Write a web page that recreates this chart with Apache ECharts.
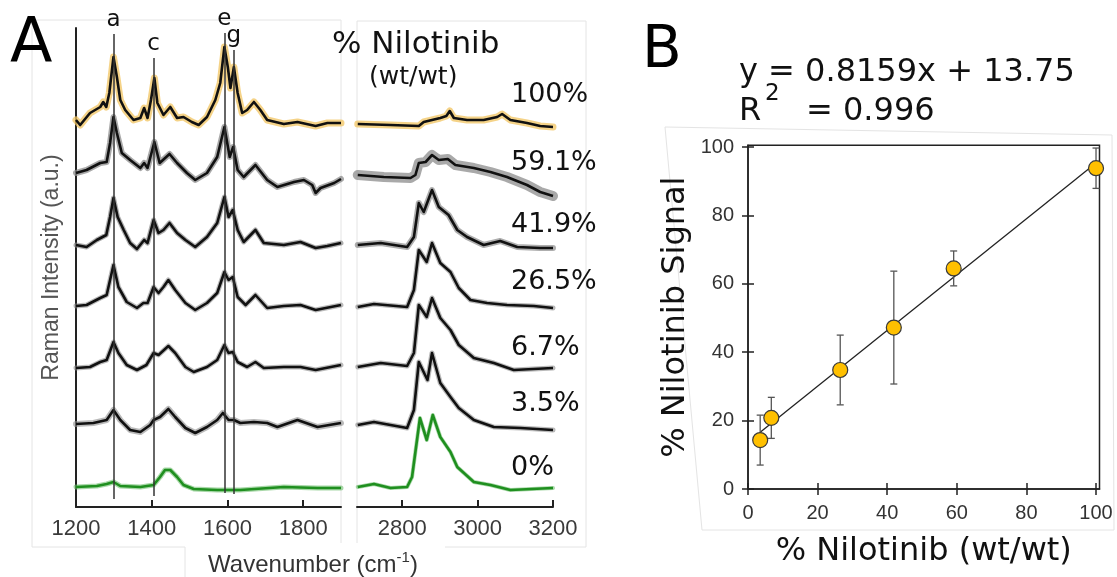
<!DOCTYPE html>
<html><head><meta charset="utf-8">
<script src="https://cdn.jsdelivr.net/npm/echarts@6/dist/echarts.min.js"></script>
<style>html,body{margin:0;padding:0;background:#fff}#c{width:1117px;height:577px}</style>
</head><body><div id="c"></div>
<script>
// ---------- Panel A: Raman spectra (stacked, a.u.) ----------
const pctLabels = ['100%', '59.1%', '41.9%', '26.5%', '6.7%', '3.5%', '0%'];

const spec100Low = [[1200,387],[1211,382],[1237,394],[1264,400],[1272,405],[1280,400],[1288,414],[1299,450],[1308,430],[1317,407],[1330,397],[1352,387],[1370,389],[1380,399],[1389,389],[1398,407],[1407,429],[1415,404],[1431,392],[1449,400],[1467,389],[1484,390],[1506,385],[1524,382],[1546,390],[1568,407],[1581,424],[1592,460],[1601,440],[1608,419],[1617,440],[1627,414],[1639,394],[1652,397],[1670,405],[1687,397],[1705,387],[1749,383],[1785,385],[1833,381],[1864,384],[1900,384]];
const spec100High = [[2682,383],[2769,382],[2844,381],[2857,385],[2901,389],[2917,391],[2926,396],[2937,389],[2972,387],[3016,387],[3052,390],[3065,393],[3087,387],[3131,384],[3166,381],[3200,380]];

const spec591Low = [[1200,334],[1228,337],[1264,344],[1281,345],[1290,364],[1299,390],[1308,374],[1321,354],[1343,347],[1370,339],[1380,344],[1389,339],[1407,365],[1421,344],[1447,353],[1467,344],[1493,334],[1515,327],[1546,334],[1573,350],[1592,380],[1606,350],[1615,360],[1627,337],[1643,330],[1674,342],[1705,327],[1732,320],[1776,325],[1802,327],[1824,322],[1833,314],[1846,319],[1882,324],[1900,328]];
const spec591High = [[2682,332],[2751,330],[2822,329],[2835,332],[2844,344],[2862,345],[2879,352],[2897,347],[2921,348],[2941,342],[2990,339],[3034,335],[3078,330],[3131,322],[3166,315],[3200,311]];

const spec419Low = [[1200,262],[1228,260],[1255,267],[1280,272],[1290,290],[1299,309],[1310,290],[1326,277],[1343,264],[1361,258],[1380,267],[1389,264],[1405,287],[1418,274],[1431,277],[1447,284],[1467,274],[1489,267],[1515,260],[1546,270],[1573,284],[1592,310],[1603,290],[1614,297],[1627,277],[1643,265],[1674,277],[1696,264],[1749,262],[1793,265],[1833,259],[1864,261],[1900,264]];
const spec419High = [[2682,262],[2743,264],[2813,260],[2831,270],[2844,304],[2857,295],[2879,317],[2897,300],[2923,292],[2946,277],[2972,270],[3016,262],[3060,266],[3105,260],[3166,259],[3200,259]];

const spec265Low = [[1200,201],[1228,202],[1264,209],[1281,212],[1290,227],[1299,242],[1312,220],[1334,205],[1361,199],[1378,204],[1389,204],[1405,220],[1418,214],[1431,220],[1444,227],[1462,217],[1489,204],[1515,197],[1546,204],[1573,214],[1592,235],[1603,227],[1614,230],[1627,210],[1648,202],[1674,212],[1705,199],[1749,201],[1793,202],[1833,197],[1900,202]];
const spec265High = [[2682,200],[2725,203],[2813,200],[2831,217],[2844,257],[2865,245],[2879,264],[2901,244],[2928,235],[2950,219],[2981,207],[3025,204],[3078,202],[3149,201],[3200,199]];

const spec67Low = [[1200,139],[1237,140],[1264,145],[1281,147],[1299,165],[1312,154],[1334,142],[1361,137],[1386,142],[1405,154],[1418,152],[1444,161],[1462,154],[1489,140],[1511,135],[1546,140],[1573,147],[1592,162],[1603,154],[1614,155],[1627,145],[1652,140],[1674,145],[1696,139],[1749,140],[1793,140],[1833,137],[1900,142]];
const spec67High = [[2682,140],[2743,144],[2813,141],[2831,154],[2844,202],[2865,190],[2879,209],[2901,189],[2928,177],[2950,162],[2990,149],[3043,144],[3096,137],[3200,139]];

const spec35Low = [[1200,83],[1246,84],[1281,87],[1299,97],[1317,87],[1343,77],[1370,75],[1396,82],[1405,87],[1422,90],[1444,98],[1462,90],[1489,79],[1515,74],[1546,80],[1573,87],[1588,94],[1603,87],[1617,87],[1634,84],[1670,85],[1705,84],[1732,80],[1785,87],[1838,80],[1900,84]];
const spec35High = [[2682,82],[2725,85],[2813,79],[2831,97],[2844,145],[2867,127],[2879,154],[2901,124],[2928,110],[2950,99],[2990,87],[3043,80],[3114,79],[3200,77]];

const spec0Low = [[1200,20],[1255,21],[1281,23],[1299,25],[1317,21],[1370,20],[1405,22],[1422,30],[1435,37],[1449,37],[1467,30],[1484,22],[1511,18],[1573,17],[1634,17],[1749,20],[1838,19],[1900,19]];
const spec0High = [[2682,20],[2725,23],[2769,19],[2813,20],[2826,30],[2847,89],[2865,67],[2881,92],[2901,70],[2928,55],[2946,40],[2990,25],[3034,22],[3087,17],[3200,19]];

const lowTicks = [1200, 1400, 1600, 1800];
const highTicks = [2800, 3000, 3200];

const peakNames = ['a', 'c', 'e', 'g'];
const peakPos = [1299, 1405, 1592, 1617];
const peakTop = [473, 449, 474, 457];
const peakBottom = [8, 11, 14, 13];

// ---------- Panel B: calibration ----------
const nilConc = [3.5, 6.7, 26.5, 41.9, 59.1, 100];
const nilSignal = [14.3, 20.8, 34.8, 47.2, 64.5, 93.8];
const nilSD = [7.3, 6.0, 10.2, 16.5, 5.1, 5.9];
const fitX = [3.5, 100];
const fitY = [16.6, 95.3];
const bTicks = [0, 20, 40, 60, 80, 100];

// ---------------------------------------------
const lowSets = [spec100Low, spec591Low, spec419Low, spec265Low, spec67Low, spec35Low, spec0Low];
const highSets = [spec100High, spec591High, spec419High, spec265High, spec67High, spec35High, spec0High];
const bandColors = ['rgba(242,196,96,0.75)', 'rgba(140,140,140,0.75)', 'rgba(140,140,140,0.7)', 'rgba(140,140,140,0.6)', 'rgba(140,140,140,0.6)', 'rgba(140,140,140,0.6)', 'rgba(110,190,110,0.6)'];
const bandWidthsLow = [7, 6, 5, 5, 5, 6, 5];
const bandWidthsHigh = [7, 10, 6, 5, 5, 5, 4];
const lineColors = ['#111', '#111', '#111', '#111', '#111', '#111', '#1f8f1f'];
const plain = v => String(v);

const series = [];
for (let i = 0; i < lowSets.length; i++) {
  [[lowSets[i], 0, bandWidthsLow[i]], [highSets[i], 1, bandWidthsHigh[i]]].forEach(([d, ax, bw]) => {
    series.push({ type: 'line', xAxisIndex: ax, yAxisIndex: ax, data: d, symbol: 'none', silent: true, z: 2,
      lineStyle: { color: bandColors[i], width: bw, join: 'round', cap: 'round' } });
    series.push({ type: 'line', xAxisIndex: ax, yAxisIndex: ax, data: d, symbol: 'none', silent: true, z: 3,
      lineStyle: { color: lineColors[i], width: 2.6, join: 'round' } });
  });
}
series.push({
  type: 'line', xAxisIndex: 0, yAxisIndex: 0, data: [], z: 5, silent: true,
  markLine: {
    silent: true, symbol: 'none', animation: false,
    lineStyle: { color: '#333', width: 1.5, type: 'solid' },
    label: { show: true, position: 'end', distance: 2, formatter: p => p.name, color: '#111', fontSize: 23, fontFamily: 'DejaVu Sans' },
    data: peakNames.map((n, k) => [{ name: n, coord: [peakPos[k], peakBottom[k]] }, { coord: [peakPos[k], peakTop[k]] }])
  }
});

// Panel B series
series.push({ type: 'line', xAxisIndex: 2, yAxisIndex: 2, data: fitX.map((x, k) => [x, fitY[k]]), symbol: 'none', silent: true, z: 3,
  lineStyle: { color: '#222', width: 1.3 } });
series.push({
  type: 'custom', xAxisIndex: 2, yAxisIndex: 2, z: 4, silent: true,
  data: nilConc.map((x, k) => [x, nilSignal[k] - nilSD[k], nilSignal[k] + nilSD[k]]),
  renderItem: function (params, api) {
    const x = api.value(0);
    const pLo = api.coord([x, api.value(1)]);
    const pHi = api.coord([x, api.value(2)]);
    const w = 3.5;
    const st = { stroke: '#555', lineWidth: 1.3 };
    return { type: 'group', children: [
      { type: 'line', shape: { x1: pLo[0], y1: pLo[1], x2: pHi[0], y2: pHi[1] }, style: st },
      { type: 'line', shape: { x1: pLo[0] - w, y1: pLo[1], x2: pLo[0] + w, y2: pLo[1] }, style: st },
      { type: 'line', shape: { x1: pHi[0] - w, y1: pHi[1], x2: pHi[0] + w, y2: pHi[1] }, style: st }
    ]};
  }
});
series.push({ type: 'scatter', xAxisIndex: 2, yAxisIndex: 2, z: 6, silent: true, symbolSize: 15,
  data: nilConc.map((x, k) => [x, nilSignal[k]]),
  itemStyle: { color: '#FFC000', borderColor: '#3a3a3a', borderWidth: 1.2, opacity: 1 } });

const faint = '#e4e4e4';
const option = {
  animation: false,
  backgroundColor: '#fff',
  grid: [
    { left: 76, top: 28, width: 265, height: 479 },
    { left: 357, top: 28, width: 196, height: 479 },
    { left: 748, top: 145.3, width: 351.5, height: 343.7, show: true, borderColor: '#222', borderWidth: 1.5, backgroundColor: 'transparent' }
  ],
  xAxis: [
    { gridIndex: 0, type: 'value', min: 1200, max: 1900,
      axisLine: { lineStyle: { color: '#222', width: 2 } },
      axisTick: { inside: true, length: 7, customValues: [1400, 1600, 1800], lineStyle: { color: '#222', width: 2 } },
      axisLabel: { customValues: lowTicks, formatter: plain, color: '#3a3a3a', fontSize: 22, margin: 11, fontFamily: 'Liberation Sans' },
      splitLine: { show: false } },
    { gridIndex: 1, type: 'value', min: 2680, max: 3200,
      axisLine: { lineStyle: { color: '#222', width: 2 } },
      axisTick: { inside: true, length: 7, customValues: highTicks, lineStyle: { color: '#222', width: 2 } },
      axisLabel: { customValues: highTicks, formatter: plain, color: '#3a3a3a', fontSize: 22, margin: 11, fontFamily: 'Liberation Sans' },
      splitLine: { show: false } },
    { gridIndex: 2, type: 'value', min: 0, max: 101, position: 'bottom',
      name: '% Nilotinib (wt/wt)', nameLocation: 'middle', nameGap: 47,
      nameTextStyle: { color: '#111', fontSize: 32, fontFamily: 'DejaVu Sans' },
      axisLine: { lineStyle: { color: '#222', width: 1.5 } },
      axisTick: { inside: false, length: 6, customValues: bTicks, lineStyle: { color: '#222', width: 1.5 } },
      axisLabel: { customValues: bTicks, formatter: plain, color: '#333', fontSize: 20, margin: 14, fontFamily: 'Liberation Sans' },
      splitLine: { show: false } },
    { gridIndex: 2, type: 'value', min: 0, max: 101, position: 'bottom', offset: 0,
      axisLine: { show: false },
      axisTick: { inside: true, length: 6, customValues: bTicks, lineStyle: { color: '#222', width: 1.5 } },
      axisLabel: { show: false }, splitLine: { show: false } }
  ],
  yAxis: [
    { gridIndex: 0, type: 'value', min: 0, max: 479,
      name: 'Raman Intensity (a.u.)', nameLocation: 'middle', nameGap: 13,
      nameTextStyle: { color: '#555', fontSize: 23, fontFamily: 'Liberation Sans' },
      axisLine: { show: true, lineStyle: { color: '#222', width: 2 } },
      axisTick: { show: false }, axisLabel: { show: false }, splitLine: { show: false } },
    { gridIndex: 1, type: 'value', min: 0, max: 479, show: false, splitLine: { show: false } },
    { gridIndex: 2, type: 'value', min: 0, max: 100.5, position: 'left',
      name: '% Nilotinib Signal', nameLocation: 'middle', nameGap: 56,
      nameTextStyle: { color: '#111', fontSize: 32, fontFamily: 'DejaVu Sans' },
      axisLine: { lineStyle: { color: '#222', width: 1.5 } },
      axisTick: { inside: false, length: 6, customValues: bTicks, lineStyle: { color: '#222', width: 1.5 } },
      axisLabel: { customValues: bTicks, formatter: plain, color: '#333', fontSize: 20, margin: 14, fontFamily: 'Liberation Sans' },
      splitLine: { show: false } },
    { gridIndex: 2, type: 'value', min: 0, max: 100.5, position: 'left', offset: 0,
      axisLine: { show: false },
      axisTick: { inside: true, length: 6, customValues: bTicks, lineStyle: { color: '#222', width: 1.5 } },
      axisLabel: { show: false }, splitLine: { show: false } }
  ],
  graphic: [
    // faint panel frames
    { type: 'polyline', silent: true, z: -1, shape: { points: [[185, 577], [185, 547], [32, 547], [32, 20], [341, 20], [341, 543]] }, style: { stroke: faint, lineWidth: 1, fill: null } },
    { type: 'polyline', silent: true, z: -1, shape: { points: [[357, 543], [357, 21], [586, 21], [586, 177]] }, style: { stroke: faint, lineWidth: 1, fill: null } },
    { type: 'polyline', silent: true, z: -1, shape: { points: [[445, 547], [586, 547], [586, 177]] }, style: { stroke: faint, lineWidth: 1, fill: null } },
    { type: 'polyline', silent: true, z: -1, shape: { points: [[702, 530], [665, 127], [1112, 135], [1114, 530], [702, 530]] }, style: { stroke: faint, lineWidth: 1, fill: null } },
    // panel letters
    { type: 'text', left: 10, top: 15, silent: true, style: { text: 'A', font: '62px "DejaVu Sans"', fill: '#000' } },
    { type: 'text', left: 642, top: 23, silent: true, style: { text: 'B', font: '58px "DejaVu Sans"', fill: '#000' } },
    // legend title
    { type: 'text', left: 332, top: 29, silent: true, style: { text: '% Nilotinib', font: '31px "DejaVu Sans"', fill: '#111' } },
    { type: 'text', left: 369, top: 65, silent: true, style: { text: '(wt/wt)', font: '25px "DejaVu Sans"', fill: '#111' } },
    // spectrum labels
    ...pctLabels.map((t, k) => ({ type: 'text', left: 511, top: [81, 149, 211, 268, 334, 390, 454][k], silent: true,
      style: { text: t, font: '27px "DejaVu Sans"', fill: '#111' } })),
    // x axis title panel A
    { type: 'text', silent: true, x: 313, y: 565,
      style: { text: '{m|Wavenumber (cm}{s|-1}{m|)}', align: 'center', verticalAlign: 'middle',
        rich: { m: { fontSize: 24, fontFamily: 'Liberation Sans', fill: '#333', lineHeight: 30 },
                s: { fontSize: 15, fontFamily: 'Liberation Sans', fill: '#333', verticalAlign: 'top', lineHeight: 30 } } } },
    // equation
    { type: 'text', left: 739, top: 57, silent: true, style: { text: 'y = 0.8159x + 13.75', font: '32px "DejaVu Sans"', fill: '#111' } },
    { type: 'text', left: 739, top: 96, silent: true, style: { text: 'R', font: '32px "DejaVu Sans"', fill: '#111' } },
    { type: 'text', left: 765, top: 83, silent: true, style: { text: '2', font: '23px "DejaVu Sans"', fill: '#111' } },
    { type: 'text', left: 806, top: 96, silent: true, style: { text: '= 0.996', font: '32px "DejaVu Sans"', fill: '#111' } }
  ],
  series: series
};
const chart = echarts.init(document.getElementById('c'), null, { renderer: 'canvas' });
chart.setOption(option);
</script></body></html>
